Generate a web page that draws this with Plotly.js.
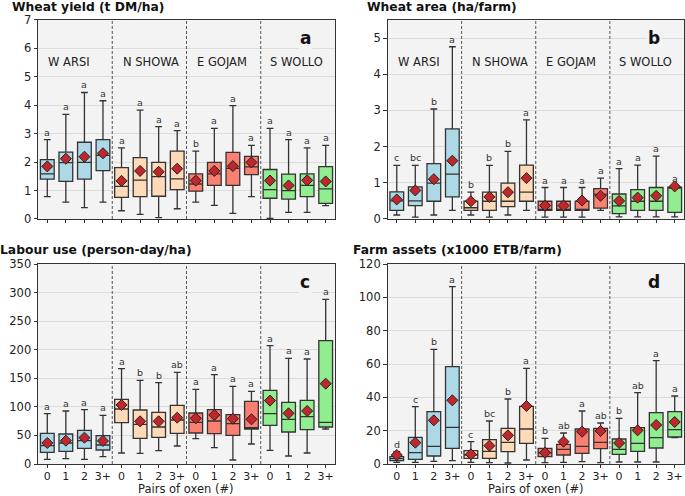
<!DOCTYPE html>
<html><head><meta charset="utf-8">
<script src="https://cdn.plot.ly/plotly-3.0.1.min.js"></script>
<style>html,body{margin:0;padding:0;background:#fff}#chart{width:685px;height:496px}</style>
</head><body><div id="chart"></div>
<script>
// ---------- DATA ----------
const oxenLevels = ['0', '1', '2', '3+'];
const regions = ['W ARSI', 'N SHOWA', 'E GOJAM', 'S WOLLO'];
const panelTitles = ['Wheat yield (t DM/ha)', 'Wheat area (ha/farm)', 'Labour use (person-day/ha)', 'Farm assets (x1000 ETB/farm)'];
const panelLetters = ['a', 'b', 'c', 'd'];
const xAxisTitle = 'Pairs of oxen (#)';

// Wheat yield
const yieldLo   = [0.79,0.59,0.40,0.59, 0.29,0.16,0.05,0.36, 0.59,0.48,0.20,0.79, 0.02,0.23,0.23,0.47];
const yieldQ1   = [1.40,1.32,1.40,1.70, 0.76,0.79,0.80,1.03, 0.98,1.18,1.18,1.56, 0.73,0.70,0.79,0.55];
const yieldMed  = [1.59,1.98,1.99,2.24, 1.15,1.37,1.49,1.41, 1.23,1.59,1.78,1.83, 1.03,1.00,1.18,1.06];
const yieldQ3   = [2.09,2.35,2.70,2.79, 1.81,2.16,1.99,2.39, 1.59,1.99,2.34,2.20, 1.74,1.58,1.59,1.84];
const yieldHi   = [2.79,3.68,4.45,4.16, 2.50,3.83,3.25,3.11, 2.39,3.19,3.99,2.59, 3.19,2.79,2.50,2.59];
const yieldMean = [1.85,2.12,2.19,2.31, 1.34,1.69,1.66,1.77, 1.35,1.69,1.86,1.99, 1.35,1.18,1.36,1.32];
const yieldSig  = ['a','a','a','a', 'a','a','a','a', 'b','a','a','a', 'a','a','a','a'];

// Wheat area
const areaLo   = [0.11,0.05,0.11,0.24, 0.11,0.05,0.11,0.24, 0.05,0.05,0.05,0.24, 0.06,0.06,0.06,0.06];
const areaQ1   = [0.24,0.37,0.49,0.61, 0.24,0.24,0.34,0.49, 0.24,0.24,0.24,0.30, 0.15,0.24,0.24,0.18];
const areaMed  = [0.50,0.50,0.99,1.24, 0.31,0.49,0.49,0.74, 0.25,0.25,0.25,0.68, 0.36,0.49,0.49,0.88];
const areaQ3   = [0.75,0.89,1.53,2.49, 0.49,0.74,0.99,1.49, 0.49,0.49,0.49,0.84, 0.69,0.81,0.87,0.88];
const areaHi   = [1.48,1.48,3.04,4.76, 0.74,1.48,1.87,2.74, 0.87,0.87,0.87,1.13, 1.39,1.49,1.74,0.90];
const areaMean = [0.54,0.79,1.10,1.61, 0.49,0.61,0.74,1.13, 0.37,0.37,0.51,0.64, 0.50,0.59,0.64,0.90];
const areaSig  = ['c','bc','b','a', 'b','b','b','a', 'a','a','a','a', 'a','a','a','a'];

// Labour use
const labourLo   = [8.2,9.3,8.2,12.8, 19.3,18.7,23.3,31.5, 44.3,28.6,7.0,35.0, 23.9,14.0,19.3,61.3];
const labourQ1   = [20.4,22.2,27.4,24.5, 72.3,44.9,46.7,53.7, 54.3,53.1,50.2,61.3, 67.7,56.0,60.1,64.8];
const labourMed  = [32.1,36.8,40.8,33.3, 96.3,69.4,64.8,77.0, 72.9,75.3,70.6,63.6, 88.1,78.2,82.8,72.9];
const labourQ3   = [53.7,52.5,58.9,49.6, 113.2,94.5,90.4,102.7, 89.3,95.1,86.3,109.7, 128.9,107.9,111.4,215.9];
const labourHi   = [88.1,92.8,95.1,85.2, 166.9,146.4,142.4,160.4, 130.7,156.4,135.9,127.2, 207.1,185.0,183.8,288.2];
const labourMean = [36.8,40.8,46.1,40.3, 103.3,74.7,74.7,81.1, 79.9,85.8,79.3,78.2, 110.9,88.7,92.8,140.6];
const labourSig  = ['a','a','a','a', 'a','b','b','ab', 'a','a','a','a', 'a','a','a','a'];

// Farm assets
const assetsLo   = [1.0,1.0,1.6,2.0, 1.0,0.8,0.6,2.4, 0.8,1.0,1.4,0.8, 1.2,1.2,1.2,15.8];
const assetsQ1   = [2.0,2.8,4.8,9.4, 3.4,3.4,7.4,12.4, 4.4,5.4,6.4,9.2, 5.8,7.6,9.6,16.2];
const assetsMed  = [3.2,6.8,10.6,22.0, 5.4,7.6,13.0,21.0, 6.8,8.8,10.6,13.0, 8.8,12.4,15.8,20.6];
const assetsQ3   = [4.4,16.0,31.4,58.4, 8.0,14.6,21.4,34.6, 9.4,11.8,21.0,21.4, 15.0,21.8,30.8,31.4];
const assetsHi   = [7.4,34.4,68.8,106.4, 13.4,25.8,39.0,57.4, 15.4,18.6,31.8,24.6, 27.4,42.8,62.0,40.8];
const assetsMean = [5.4,12.8,26.2,38.2, 5.8,11.0,17.2,34.8, 6.8,13.4,19.4,19.8, 12.6,20.2,23.4,25.2];
const assetsSig  = ['d','c','b','a', 'c','bc','b','a', 'b','ab','a','ab', 'b','ab','a','a'];

// ---------- STYLE ----------
const FONT = 'DejaVu Sans, sans-serif';
const regionFill = ['#add8e6', '#ffdab9', '#fa8072', '#90ee90'];
const plotBg = '#f3f3f3';
const lineCol = '#333333';
const panelsData = [
  {lo: yieldLo, q1: yieldQ1, med: yieldMed, q3: yieldQ3, hi: yieldHi, mean: yieldMean, sig: yieldSig, range: [0, 7], dtick: 1},
  {lo: areaLo, q1: areaQ1, med: areaMed, q3: areaQ3, hi: areaHi, mean: areaMean, sig: areaSig, range: [0, 5.5], dtick: 1},
  {lo: labourLo, q1: labourQ1, med: labourMed, q3: labourQ3, hi: labourHi, mean: labourMean, sig: labourSig, range: [0, 350], dtick: 50},
  {lo: assetsLo, q1: assetsQ1, med: assetsMed, q3: assetsQ3, hi: assetsHi, mean: assetsMean, sig: assetsSig, range: [0, 120], dtick: 20}
];
const xDomains = [[0.0555, 0.489], [0.5657, 0.9985], [0.0555, 0.489], [0.5657, 0.9985]];
const yDomains = [[0.5585, 0.9597], [0.5585, 0.9597], [0.0645, 0.4677], [0.0645, 0.4677]];
// [left px, top px] of each panel title box
const titlePos = [[11.7, 0], [366.7, 0], [0, 243], [353, 243]];

const positions = [];
const tickText = [];
regions.forEach((r, ri) => oxenLevels.forEach((o, oi) => { positions.push(ri * 4 + oi); tickText.push(o); }));

const traces = [];
const annotations = [];
const shapes = [];
const layout = {
  width: 685, height: 496,
  margin: {l: 0, r: 0, t: 0, b: 0},
  paper_bgcolor: '#ffffff', plot_bgcolor: plotBg,
  showlegend: false,
  font: {family: FONT, color: '#222', size: 11.5},
  boxmode: 'overlay',
  annotations: annotations, shapes: shapes
};

panelsData.forEach((P, pi) => {
  const sfx = pi === 0 ? '' : String(pi + 1);
  const xa = 'x' + sfx, ya = 'y' + sfx;
  layout['xaxis' + sfx] = {
    domain: xDomains[pi], anchor: ya, range: [-0.5, 15.5],
    tickmode: 'array', tickvals: positions, ticktext: tickText,
    showticklabels: pi >= 2, ticks: 'outside', ticklen: 3, tickwidth: 1, tickcolor: lineCol,
    ticklabelstandoff: -1,
    showline: true, mirror: true, linecolor: lineCol, linewidth: 1,
    showgrid: false, zeroline: false, tickfont: {size: 11, family: FONT, color: '#222'}
  };
  layout['yaxis' + sfx] = {
    domain: yDomains[pi], anchor: xa, range: P.range, dtick: P.dtick, tick0: 0,
    ticks: 'outside', ticklen: 3.5, tickwidth: 1, tickcolor: lineCol,
    showline: true, mirror: true, linecolor: lineCol, linewidth: 1,
    showgrid: true, gridcolor: '#dcdcdc', gridwidth: 1, zeroline: false,
    tickfont: {size: 11.5, family: FONT, color: '#222'}
  };

  regions.forEach((r, ri) => {
    const idx = [0, 1, 2, 3].map(k => ri * 4 + k);
    traces.push({
      type: 'box', xaxis: xa, yaxis: ya,
      x: idx.map(i => positions[i]),
      q1: idx.map(i => P.q1[i]), median: idx.map(i => P.med[i]), q3: idx.map(i => P.q3[i]),
      lowerfence: idx.map(i => P.lo[i]), upperfence: idx.map(i => P.hi[i]),
      width: 0.74, whiskerwidth: 0.5,
      fillcolor: regionFill[ri], line: {color: lineCol, width: 1.3},
      boxpoints: false, hoverinfo: 'skip'
    });
  });

  traces.push({
    type: 'scatter', mode: 'markers', xaxis: xa, yaxis: ya,
    x: positions, y: P.mean,
    marker: {symbol: 'diamond', size: 8.5, color: '#c0272d', line: {color: '#222', width: 1}},
    hoverinfo: 'skip'
  });

  positions.forEach((x, i) => {
    annotations.push({
      xref: xa, yref: ya, x: x, y: P.hi[i], text: P.sig[i], showarrow: false,
      xanchor: 'center', yanchor: 'bottom', yshift: 0,
      font: {family: FONT, size: 9.5, color: '#333'}
    });
  });

  [3.5, 7.5, 11.5].forEach(xv => shapes.push({
    type: 'line', xref: xa, yref: ya + ' domain', x0: xv, x1: xv, y0: 0, y1: 1,
    line: {color: '#444', width: 0.9, dash: '3px,2px'}
  }));

  if (pi < 2) {
    regions.forEach((r, ri) => annotations.push({
      xref: xa, yref: ya + ' domain', x: positions[ri * 4] - 0.05 + (ri === 3 ? -0.05 : 0), y: 0.79,
      text: r, showarrow: false, xanchor: 'left', yanchor: 'middle',
      font: {family: FONT, size: 11.5, color: '#222'}
    }));
  }

  annotations.push({
    xref: xa + ' domain', yref: ya + ' domain', x: 0.9, y: 0.91, text: '<b>' + panelLetters[pi] + '</b>',
    showarrow: false, xanchor: 'center', yanchor: 'middle', bgcolor: plotBg,
    font: {family: FONT, size: 17, color: '#111'}
  });

  annotations.push({
    xref: 'paper', yref: 'paper', x: titlePos[pi][0] / 685, y: 1 - titlePos[pi][1] / 496,
    text: '<b>' + panelTitles[pi] + '</b>', showarrow: false, xanchor: 'left', yanchor: 'top',
    borderpad: 0, borderwidth: 0,
    font: {family: FONT, size: 12.3, color: '#111'}
  });

  if (pi >= 2) {
    annotations.push({
      xref: xa + ' domain', yref: 'paper', x: 0.5, y: 0, yshift: 0.5, text: xAxisTitle,
      showarrow: false, xanchor: 'center', yanchor: 'bottom', borderpad: 0, borderwidth: 0,
      font: {family: FONT, size: 11.5, color: '#222'}
    });
  }
});

Plotly.newPlot('chart', traces, layout, {staticPlot: true, displayModeBar: false});
</script></body></html>
